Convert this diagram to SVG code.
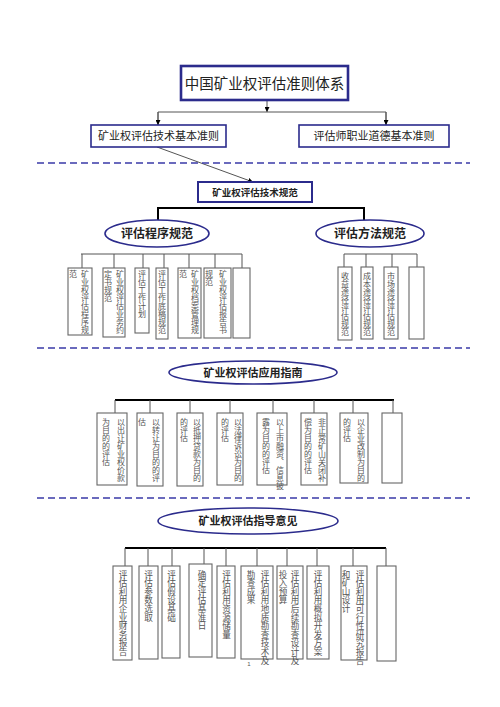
<svg xmlns="http://www.w3.org/2000/svg" width="500" height="707" viewBox="0 0 500 707">
<style>
.nb{fill:#fff;stroke:#2b2b8c}
.el{fill:#fff;stroke:#2b2b8c;stroke-width:1.6}
.sb{fill:#fff;stroke:#666;stroke-width:1.1}
.c{stroke:#555;stroke-width:1;fill:none}
.thk{stroke:#000;stroke-width:2;fill:none}
.dash{stroke:#3a3aa8;stroke-width:1.3;stroke-dasharray:7,4;fill:none}
.t{font-family:"Liberation Sans","Noto Sans CJK SC",sans-serif;fill:#222;text-anchor:middle}
.tb{font-family:"Noto Sans CJK SC",sans-serif;font-weight:bold;fill:#222;text-anchor:middle}
.v{font-family:"Noto Sans CJK SC",sans-serif;fill:#555;font-size:8px;writing-mode:vertical-rl}
.v2{font-family:"Noto Sans CJK SC",sans-serif;fill:#555;font-size:8.6px;writing-mode:vertical-rl}
</style>
<defs>
<marker id="ar" viewBox="0 0 10 10" refX="10" refY="5" markerWidth="5" markerHeight="5" orient="auto"><path d="M0,0 L10,5 L0,10 z" fill="#000"/></marker>
</defs>
<rect width="500" height="707" fill="#fff"/>

<g id="connectors">
<line class="c" x1="267" y1="100" x2="267" y2="112" marker-end="url(#ar)"/>
<polyline class="c" points="158,125 158,112 386,112 386,125"/>
<line class="c" x1="158" y1="112" x2="158" y2="125" marker-end="url(#ar)"/>
<line class="c" x1="386" y1="112" x2="386" y2="125" marker-end="url(#ar)"/>
<line class="c" x1="157" y1="147" x2="253" y2="182" marker-end="url(#ar)"/>
<polyline class="thk" points="158,220 158,208 364,208 364,220"/>
<line class="c" x1="81" y1="254" x2="242" y2="254"/>
<path class="c" d="M82,254V268M114,254V268M143,254V268M164,254V268M189,254V268M215,254V268M242,254V268"/>
<line class="c" x1="344" y1="254" x2="417" y2="254"/>
<path class="c" d="M344,254V267M366,254V267M392,254V267M417,254V267"/>
<line class="thk" x1="115" y1="400" x2="394" y2="400"/>
<path class="c" d="M115,400V413M150,400V413M190,400V413M230,400V413M273,400V413M314,400V413M353,400V413M393,400V413"/>
<line class="thk" x1="125" y1="548" x2="386" y2="548"/>
<path class="c" d="M125,548V566M148,548V566M172,548V566M204,548V564M226,548V566M257,548V566M287,548V566M317,548V566M353,548V566M386,548V566"/>
</g>

<line class="dash" x1="37" y1="163" x2="470" y2="163"/>
<line class="dash" x1="37" y1="348" x2="470" y2="348"/>
<line class="dash" x1="37" y1="498" x2="470" y2="498"/>

<g id="title">
<rect class="nb" x="181" y="66" width="167" height="34" stroke-width="2.6"/>
<text class="t" x="264.5" y="88.5" font-size="14.5">中国矿业权评估准则体系</text>
</g>
<g id="tech-basic">
<rect class="nb" x="91" y="125" width="135" height="22" stroke-width="1.6"/>
<text class="t" x="158.5" y="140" font-size="11">矿业权评估技术基本准则</text>
</g>
<g id="ethics">
<rect class="nb" x="299" y="125" width="150" height="22" stroke-width="1.6"/>
<text class="t" x="374" y="140" font-size="11">评估师职业道德基本准则</text>
</g>
<g id="tech-norm">
<rect class="nb" x="198" y="182" width="114" height="20" stroke-width="2"/>
<text class="tb" x="255" y="195.5" font-size="9.5">矿业权评估技术规范</text>
</g>
<g id="process">
<ellipse class="el" cx="157" cy="233.5" rx="52" ry="13.5"/>
<text class="tb" x="157" y="238" font-size="12">评估程序规范</text>
</g>
<g id="method">
<ellipse class="el" cx="370" cy="233.5" rx="54" ry="13.5"/>
<text class="tb" x="370" y="238" font-size="12">评估方法规范</text>
</g>

<g id="p1"><rect class="sb" x="68" y="268" width="24" height="67"/><text class="v" x="85" y="270">矿业权评估程序规</text><text class="v" x="73" y="270">范</text></g>
<g id="p2"><rect class="sb" x="103" y="268" width="22" height="69"/><text class="v" x="120" y="270">矿业权评估业务约</text><text class="v" x="108" y="270">定书规范</text></g>
<g id="p3"><rect class="sb" x="135" y="268" width="14" height="65"/><text class="v" x="142" y="270">评估工作计划</text></g>
<g id="p4"><rect class="sb" x="156" y="268" width="12" height="71"/><text class="v" x="162" y="270">评估工作底稿规范</text></g>
<g id="p5"><rect class="sb" x="178" y="268" width="23" height="70"/><text class="v" x="195" y="270">矿业权档案管理规</text><text class="v" x="183" y="270">范</text></g>
<g id="p6"><rect class="sb" x="204" y="268" width="27" height="70"/><text class="v" x="223" y="270">矿业权评估报告书</text><text class="v" x="209" y="270">规范</text></g>
<g id="p7"><rect class="sb" x="233" y="268" width="17" height="70"/></g>

<g id="m1"><rect class="sb" x="338" y="267" width="14" height="73"/><text class="v" x="345" y="272">收益途径评估规范</text></g>
<g id="m2"><rect class="sb" x="361" y="267" width="12" height="72"/><text class="v" x="367" y="272">成本途径评估规范</text></g>
<g id="m3"><rect class="sb" x="384" y="267" width="14" height="72"/><text class="v" x="391" y="272">市场途径评估规范</text></g>
<g id="m4"><rect class="sb" x="409" y="267" width="15" height="72"/></g>

<g id="guide">
<ellipse class="el" cx="253" cy="372.5" rx="84" ry="11.5"/>
<text class="tb" x="253" y="376.5" font-size="11">矿业权评估应用指南</text>
</g>
<g id="g1"><rect class="sb" x="97" y="413" width="30" height="72"/><text class="v" x="121" y="418">以出让矿业权价款</text><text class="v" x="106" y="418">为目的的评估</text></g>
<g id="g2"><rect class="sb" x="137" y="413" width="26" height="73"/><text class="v" x="156" y="418">以转让为目的的评</text><text class="v" x="142" y="418">估</text></g>
<g id="g3"><rect class="sb" x="177" y="413" width="26" height="73"/><text class="v" x="197" y="418">以抵押贷款为目的</text><text class="v" x="184" y="418">的评估</text></g>
<g id="g4"><rect class="sb" x="217" y="413" width="26" height="72"/><text class="v" x="238" y="418">以法律诉讼为目的</text><text class="v" x="225" y="418">的评估</text></g>
<g id="g5"><rect class="sb" x="257" y="413" width="30" height="72"/><text class="v" x="280" y="418" font-size="7.3px">以上市融资、信息披</text><text class="v" x="266" y="418" font-size="7.3px">露为目的的评估</text></g>
<g id="g6"><rect class="sb" x="301" y="413" width="26" height="72"/><text class="v" x="322" y="418">非正常矿山关闭补</text><text class="v" x="308" y="418">偿为目的的评估</text></g>
<g id="g7"><rect class="sb" x="340" y="413" width="28" height="70"/><text class="v" x="361" y="418">以企业改制为目的</text><text class="v" x="347" y="418">的评估</text></g>
<g id="g8"><rect class="sb" x="382" y="413" width="20" height="70"/></g>

<g id="opinion">
<ellipse class="el" cx="248" cy="521" rx="90" ry="13"/>
<text class="tb" x="248" y="525" font-size="11">矿业权评估指导意见</text>
</g>
<g id="o1"><rect class="sb" x="113" y="566" width="19" height="94"/><text class="v2" x="123" y="570">评估利用企业财务报告</text></g>
<g id="o2"><rect class="sb" x="139" y="566" width="19" height="93"/><text class="v2" x="148.5" y="570">评估参数选取</text></g>
<g id="o3"><rect class="sb" x="162" y="566" width="18" height="92"/><text class="v2" x="171.5" y="570">评估假设基础</text></g>
<g id="o4"><rect class="sb" x="189" y="564" width="23" height="93"/><text class="v2" x="202" y="570">确定评估基准日</text></g>
<g id="o5"><rect class="sb" x="217" y="566" width="18" height="92"/><text class="v2" x="226.5" y="570">评估利用资源储量</text></g>
<g id="o6"><rect class="sb" x="241" y="566" width="32" height="93"/><text class="v2" x="265" y="570">评估利用地质勘查技术及</text><text class="v2" x="251" y="570">勘查成果</text></g>
<g id="o7"><rect class="sb" x="277" y="566" width="26" height="93"/><text class="v2" x="295" y="570">评估利用后续勘查设计及</text><text class="v2" x="283" y="570">投入预算</text></g>
<g id="o8"><rect class="sb" x="307" y="566" width="22" height="93"/><text class="v2" x="318" y="570">评估利用概拟开发方案</text></g>
<g id="o9"><rect class="sb" x="341" y="566" width="26" height="94"/><text class="v2" x="360" y="570">评估利用可行性研究报告</text><text class="v2" x="346" y="570">和矿山设计</text></g>
<g id="o10"><rect class="sb" x="377" y="566" width="19" height="95"/></g>
<text x="249" y="666" font-family="Liberation Sans,sans-serif" font-size="6" fill="#555" text-anchor="middle">1</text>
</svg>
